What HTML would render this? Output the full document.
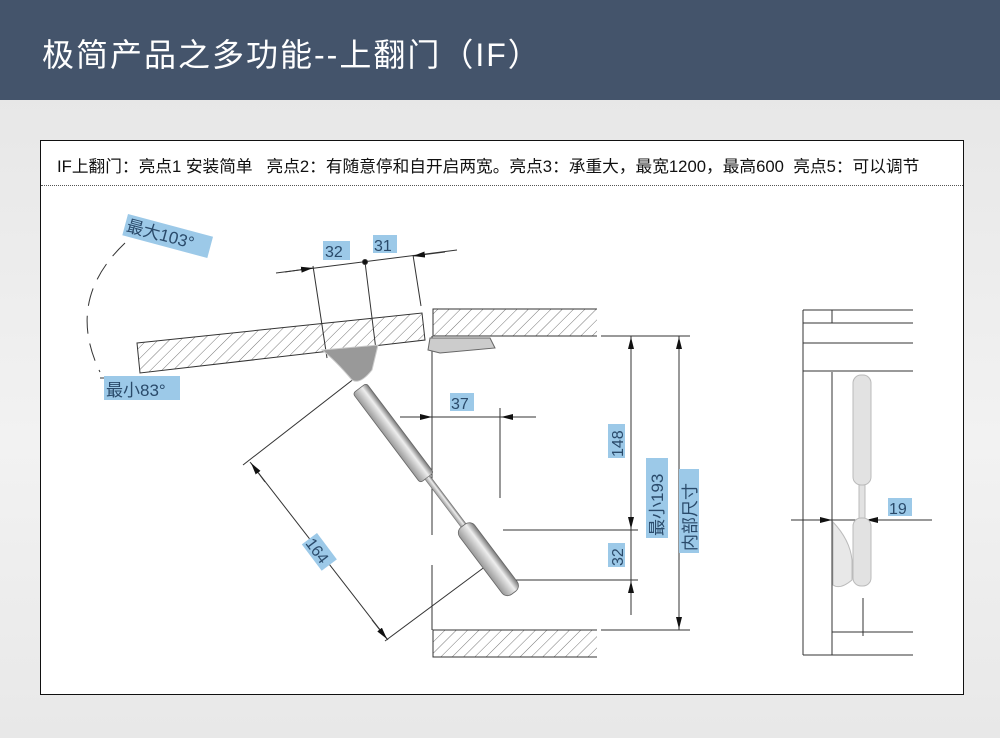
<!DOCTYPE html>
<html><head><meta charset="utf-8"><style>
html,body{margin:0;padding:0;width:1000px;height:738px;overflow:hidden;font-family:"Liberation Sans","Noto Sans CJK SC",sans-serif;}
body{background:linear-gradient(#e4e4e4,#f2f2f2 60%,#e8e8e8);position:relative}
.hdr{position:absolute;left:0;top:0;width:1000px;height:100px;background:#44546b;}
.hdr div{position:absolute;left:42px;top:30px;color:#fff;font-size:32px;letter-spacing:2px}
.box{position:absolute;left:40px;top:140px;width:922px;height:553px;background:#fff;border:1.5px solid #111}
.cap{position:absolute;left:16px;top:12px;font-size:16.7px;color:#111;white-space:nowrap}
.dot{position:absolute;left:0;top:44px;width:922px;border-top:1px dotted #555}
svg{position:absolute;left:0;top:0}
</style></head><body>
<div class="hdr"><div>极简产品之多功能--上翻门（IF）</div></div>
<div class="box"><div class="cap">IF上翻门：亮点1 安装简单 &nbsp; 亮点2：有随意停和自开启两宽。亮点3：承重大，最宽1200，最高600 &nbsp;亮点5：可以调节</div><div class="dot"></div></div>
<svg width="1000" height="738" viewBox="0 0 1000 738" font-family="Liberation Sans, Noto Sans CJK SC, sans-serif">
<defs>
<pattern id="h" width="8" height="8" patternUnits="userSpaceOnUse" patternTransform="rotate(45)"><line x1="0" y1="0" x2="0" y2="8" stroke="#777" stroke-width="1"/></pattern>
<linearGradient id="cyl" x1="0" y1="0" x2="0" y2="1"><stop offset="0" stop-color="#777"/><stop offset=".35" stop-color="#eee"/><stop offset="1" stop-color="#999"/></linearGradient>
<marker id="a" markerWidth="12" markerHeight="6" refX="12" refY="3" orient="auto"><path d="M0,0 L12,3 L0,6z" fill="#111"/></marker>
</defs>
<g stroke="#333" stroke-width="1" fill="none">
<polygon points="137,343 422,313 425,340 140,373" fill="url(#h)"/>
<polygon points="433,309 597,309 597,336 433,336" fill="url(#h)" stroke-width="0"/>
<polyline points="597,309 433,309 433,336 597,336"/>
<polygon points="433,630 597,630 597,657 433,657" fill="url(#h)" stroke-width="0"/>
<polyline points="597,630 433,630 433,657 597,657"/>
<line x1="432" y1="336" x2="432" y2="535"/><line x1="432" y1="565" x2="432" y2="630"/>
<polygon points="430,338 490,338 495,348 440,353 428,350" fill="#ccc" stroke="#666"/>
<path d="M125 243 Q65 300 100 372" stroke-dasharray="18 10"/>
<line x1="100" y1="378" x2="120" y2="378"/>
<line x1="276" y1="273" x2="457" y2="250"/>
<line x1="313" y1="266" x2="327" y2="358"/><line x1="365" y1="262" x2="376" y2="350"/><line x1="413" y1="255" x2="421" y2="306"/>
<circle cx="365" cy="262" r="2.5" fill="#111"/>
<line x1="285" y1="272" x2="313" y2="268" marker-end="url(#a)"/>
<line x1="445" y1="252" x2="413" y2="256" marker-end="url(#a)"/>
<line x1="400" y1="417" x2="536" y2="417"/><line x1="500" y1="408" x2="500" y2="498"/>
<line x1="405" y1="417" x2="432" y2="417" marker-end="url(#a)"/>
<line x1="530" y1="417" x2="501" y2="417" marker-end="url(#a)"/>
<line x1="601" y1="336" x2="690" y2="336"/><line x1="601" y1="630" x2="690" y2="630"/>
<line x1="503" y1="530" x2="638" y2="530"/><line x1="513" y1="580" x2="638" y2="580"/>
<line x1="631" y1="336" x2="631" y2="615"/>
<line x1="631" y1="360" x2="631" y2="337" marker-end="url(#a)"/>
<line x1="631" y1="505" x2="631" y2="529" marker-end="url(#a)"/>
<line x1="631" y1="605" x2="631" y2="581" marker-end="url(#a)"/>
<line x1="679" y1="336" x2="679" y2="630"/>
<line x1="679" y1="360" x2="679" y2="337" marker-end="url(#a)"/>
<line x1="679" y1="605" x2="679" y2="629" marker-end="url(#a)"/>
<line x1="250" y1="462" x2="388" y2="640"/>
<line x1="243" y1="465" x2="355" y2="378"/><line x1="385" y1="641" x2="490" y2="563"/>
<line x1="265" y1="482" x2="251" y2="463" marker-end="url(#a)"/>
<line x1="372" y1="620" x2="387" y2="639" marker-end="url(#a)"/>
<line x1="803" y1="310" x2="803" y2="655"/><line x1="832" y1="310" x2="832" y2="323"/><line x1="832" y1="372" x2="832" y2="655"/>
<line x1="803" y1="310" x2="913" y2="310"/><line x1="803" y1="323" x2="913" y2="323"/><line x1="803" y1="343" x2="913" y2="343"/><line x1="803" y1="371" x2="913" y2="371"/>
<line x1="832" y1="632" x2="913" y2="632"/><line x1="803" y1="655" x2="913" y2="655"/>
<line x1="791" y1="520" x2="932" y2="520"/>
<line x1="812" y1="520" x2="832" y2="520" marker-end="url(#a)"/>
<line x1="885" y1="520" x2="866" y2="520" marker-end="url(#a)"/>
<line x1="863" y1="598" x2="863" y2="636"/>
</g>
<path d="M322 350 L378 345 L372 370 Q360 385 352 380 Q335 360 322 350z" fill="#999" stroke="#ccc"/>
<g transform="translate(360,388) rotate(53)">
<rect x="0" y="-8" width="112" height="17" rx="3" fill="url(#cyl)" stroke="#666" stroke-width=".8"/>
<rect x="112" y="-3" width="60" height="6" fill="url(#cyl)" stroke="#777" stroke-width=".6"/>
<rect x="172" y="-9" width="84" height="19" rx="7" fill="url(#cyl)" stroke="#666" stroke-width=".8"/>
</g>
<rect x="853" y="375" width="18" height="110" rx="8" fill="#e2e2e2" stroke="#bbb"/>
<rect x="859" y="485" width="6" height="35" fill="#e2e2e2" stroke="#bbb"/>
<rect x="853" y="518" width="18" height="68" rx="8" fill="#e2e2e2" stroke="#bbb"/>
<path d="M833 522 Q850 540 852 560 L852 580 Q840 590 833 585z" fill="#e8e8e8" stroke="#bbb"/>
<g font-size="15" fill="#2a4a6a">
<g transform="translate(128,214) rotate(15)"><rect x="0" y="0" width="88" height="22" fill="#9cc9e8"/><text x="2" y="17" font-size="17">最大103°</text></g>
<rect x="104" y="376" width="76" height="24" fill="#9cc9e8"/><text x="106" y="396" font-size="17">最小83°</text>
<rect x="323" y="241" width="27" height="19" fill="#9cc9e8"/><text x="325" y="257" font-size="16">32</text>
<rect x="373" y="235" width="24" height="18" fill="#9cc9e8"/><text x="374" y="251" font-size="16">31</text>
<rect x="450" y="393" width="24" height="18" fill="#9cc9e8"/><text x="451" y="409" font-size="16">37</text>
<rect x="888" y="498" width="24" height="18" fill="#9cc9e8"/><text x="889" y="514" font-size="16">19</text>
<g transform="translate(608,458) rotate(-90)"><rect x="0" y="0" width="34" height="17" fill="#9cc9e8"/><text x="1" y="15" font-size="16">148</text></g>
<g transform="translate(608,567) rotate(-90)"><rect x="0" y="0" width="24" height="17" fill="#9cc9e8"/><text x="1" y="15" font-size="16">32</text></g>
<g transform="translate(646,538) rotate(-90)"><rect x="0" y="0" width="80" height="22" fill="#9cc9e8"/><text x="2" y="17" font-size="17">最小193</text></g>
<g transform="translate(679,553) rotate(-90)"><rect x="0" y="0" width="84" height="20" fill="#9cc9e8"/><text x="2" y="17" font-size="17">内部尺寸</text></g>
<g transform="translate(317,533) rotate(53)"><rect x="0" y="0" width="33" height="19" fill="#9cc9e8"/><text x="1" y="16" font-size="16">164</text></g>
</g>
</svg>
</body></html>
